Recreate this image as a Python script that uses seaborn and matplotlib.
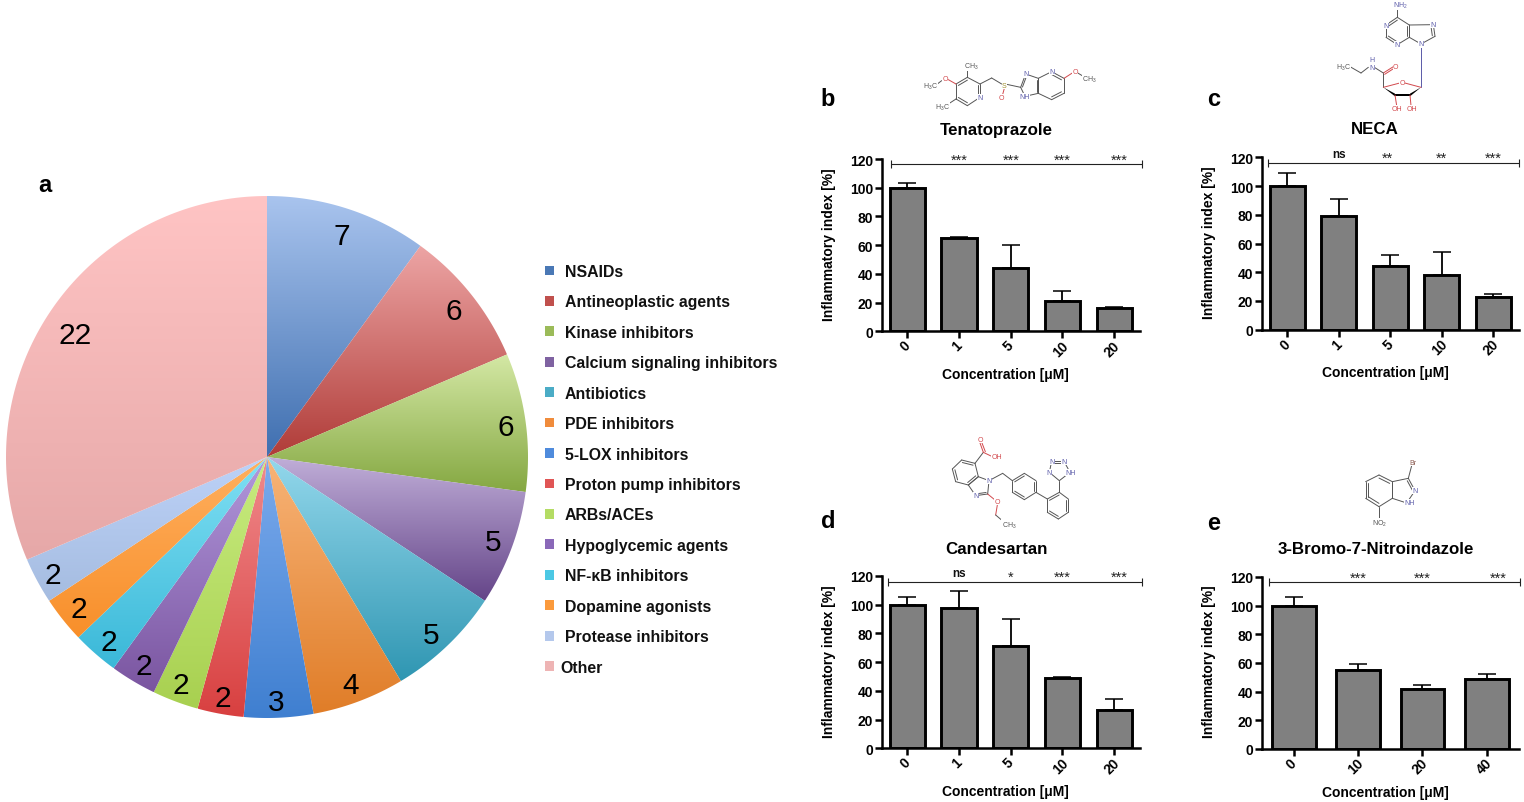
import numpy as np
import pandas as pd
import matplotlib
matplotlib.use("Agg")
import matplotlib.pyplot as plt
from matplotlib.colors import LinearSegmentedColormap
from matplotlib.patches import Patch, Polygon
from matplotlib.transforms import ScaledTranslation
import seaborn as sns

# Data
classes = ["NSAIDs", "Antineoplastic agents", "Kinase inhibitors", "Calcium signaling inhibitors",
           "Antibiotics", "PDE inhibitors", "5-LOX inhibitors", "Proton pump inhibitors", "ARBs/ACEs",
           "Hypoglycemic agents", "NF-κB inhibitors", "Dopamine agonists", "Protease inhibitors", "Other"]
counts = [7, 6, 6, 5, 5, 4, 3, 2, 2, 2, 2, 2, 2, 22]
light = ["#a9c4ee", "#eda5a5", "#d4e8a5", "#c0aed8", "#94d8ec", "#f8b478", "#7cabed",
         "#f08a8c", "#c8ec80", "#b298dc", "#80e0f4", "#ffb060", "#bdd2f8", "#ffc4c4"]
dark = ["#3f6fb0", "#b03c38", "#85a842", "#644488", "#2f96b2", "#e07d28", "#3f7fd0",
        "#d84040", "#a8d050", "#7a55a0", "#3ab8d8", "#f88f2a", "#a5bce0", "#e6a8a8"]
legend_colors = ["#4a78b5", "#c0504d", "#9bbb59", "#7f62a1", "#4bacc6", "#f08c3c", "#4f8bdc",
                 "#e05555", "#b4dc64", "#8a68b8", "#4cc8e4", "#fb9a3c", "#b4c8ec", "#eeb4b4"]
# pixel nudges for the pie numbers, which sit unevenly in the original
label_dx = [2, 3, 6, 6, 2, 1, -1, -2, -4, -3, -4, -5, -7, 4]
label_dy = [2, 0, 2, 2, 8, 8, 10, 10, 8, 7, 8, 6, 7, 7]

tena_conc = ["0", "1", "5", "10", "20"]
tena_vals = [100, 65, 44, 21, 16]
tena_err = [3, 1, 16, 7, 1]
tena_sig = ["***", "***", "***", "***"]
tena_sig_x = [1, 2, 3, 4.1]

neca_conc = ["0", "1", "5", "10", "20"]
neca_vals = [100, 79, 44, 38, 23]
neca_err = [9, 12, 8, 16, 2]
neca_sig = ["ns", "**", "**", "***"]
neca_sig_x = [1, 1.94, 3, 4]

cand_conc = ["0", "1", "5", "10", "20"]
cand_vals = [100, 98, 71, 49, 27]
cand_err = [5.5, 11.5, 19, 0.8, 7.5]
cand_sig = ["ns", "*", "***", "***"]
cand_sig_x = [1, 2, 3, 4.1]

brom_conc = ["0", "10", "20", "40"]
brom_vals = [100, 55, 42, 49]
brom_err = [6, 4.5, 3, 3]
brom_sig = ["***", "***", "***"]
brom_sig_x = [1, 2, 3.18]

sns.set_theme(style="ticks")
plt.rcParams["font.family"] = ["Liberation Sans", "DejaVu Sans"]
plt.rcParams["mathtext.default"] = "regular"

W, H = 1524, 803
fig = plt.figure(figsize=(W / 100, H / 100), dpi=100, facecolor="white")

# overlay in reference pixels, for panel letters and the structures
over = fig.add_axes([0, 0, 1, 1], facecolor="none", zorder=0)
over.set_xlim(0, W)
over.set_ylim(H, 0)
over.axis("off")
px = over.transData


def rect(x0, x1, ybot, ytop):
    return [x0 / W, 1 - ybot / H, (x1 - x0) / W, (ybot - ytop) / H]


# a: pie, each wedge with its own top-to-bottom gradient
R, cx, cy = 261, 267, 458
ax_pie = fig.add_axes(rect(cx - R, cx + R, cy + R, cy - R), zorder=1)
wedges, texts = ax_pie.pie(counts, labels=[str(c) for c in counts], startangle=90, counterclock=False,
                           radius=1, labeldistance=0.9, textprops={"fontsize": 21.5, "color": "black"})
for t, dx, dy in zip(texts, label_dx, label_dy):
    t.set_ha("center")
    t.set_va("center")
    t.set_zorder(5)
    x, y = t.get_position()
    t.set_position((x + dx / R, y - dy / R))
for w, c0, c1 in zip(wedges, light, dark):
    w.set_facecolor("none")
    w.set_edgecolor("none")
    angs = np.radians(np.linspace(w.theta1, w.theta2, 100))
    ys = np.r_[0, np.sin(angs)]
    xs = np.r_[0, np.cos(angs)]
    cmap = LinearSegmentedColormap.from_list("g", [c0, c1])
    im = ax_pie.imshow(np.linspace(0, 1, 256)[:, None], cmap=cmap, aspect="auto", zorder=1,
                       extent=[xs.min(), xs.max(), ys.min(), ys.max()], origin="upper")
    im.set_clip_path(Polygon(np.c_[xs, ys], transform=ax_pie.transData))
ax_pie.set_xlim(-1, 1)
ax_pie.set_ylim(-1, 1)
ax_pie.set_aspect("equal")
ax_pie.axis("off")

handles = [Patch(facecolor=c, edgecolor="none") for c in legend_colors]
leg = fig.legend(handles, classes, loc="upper left", bbox_to_anchor=(545 / W, 1 - 265 / H), frameon=False,
                 prop={"weight": "bold", "size": 11.4}, handlelength=0.57, handleheight=0.57,
                 handletextpad=0.68, labelspacing=0.975, borderpad=0, borderaxespad=0)
for t in leg.get_texts():
    t.set_color("#111111")
leg.get_texts()[-1].set_position((-4, 0))


def panel(box, title, title_xy, xlab_xy, ylab_xy, conc, vals, err, sig, sig_x, sig_y, bar_span, sig_text_y):
    ax = fig.add_axes(rect(*box), facecolor="none", zorder=2)
    df = pd.DataFrame({"conc": conc, "val": vals})
    sns.barplot(data=df, x="conc", y="val", color="#808080", saturation=1, width=0.68,
                edgecolor="black", linewidth=2.1, errorbar=None, ax=ax)
    # only the upper half of each error bar is shown
    ax.errorbar(range(len(vals)), vals, yerr=[np.zeros(len(err)), err], fmt="none", ecolor="black",
                elinewidth=1.3, capsize=6.5, capthick=1.1, zorder=1)
    ax.set_xlim(-0.5, len(vals) - 0.5)
    ax.set_ylim(0, 120)
    ax.set_yticks([0, 20, 40, 60, 80, 100, 120])
    sns.despine(ax=ax)
    for s in ["left", "bottom"]:
        ax.spines[s].set_linewidth(1.8)
        ax.spines[s].set_color("black")
    ax.tick_params(axis="both", length=5, width=1.8, color="black", labelcolor="black", pad=1)
    ax.tick_params(axis="x", pad=0.5)
    for lab in ax.get_yticklabels():
        lab.set_fontsize(10)
        lab.set_fontweight("bold")
    shift = ScaledTranslation(-2 / 100, 1 / 100, fig.dpi_scale_trans)
    for lab in ax.get_xticklabels():
        lab.set_fontsize(10)
        lab.set_fontweight("bold")
        lab.set_rotation(45)
        lab.set_ha("center")
        lab.set_transform(lab.get_transform() + shift)
    ax.set_xlabel("Concentration [μM]", fontsize=10, fontweight="bold", color="black", va="center")
    ax.set_ylabel("Inflammatory index [%]", fontsize=10, fontweight="bold", color="black", va="center")
    ax.xaxis.set_label_coords(*xlab_xy, transform=px)
    ax.yaxis.set_label_coords(*ylab_xy, transform=px)
    over.text(*title_xy, title, fontsize=12.2, fontweight="bold", ha="center", va="center", color="black")
    # significance bracket
    ax.plot(bar_span, [sig_y, sig_y], color="#222222", lw=0.8, marker="|", ms=6, mew=0.8, clip_on=False)
    for x, s in zip(sig_x, sig):
        if s == "ns":
            ax.text(x, sig_text_y + 1.5, s, fontsize=8.5, fontweight="bold", ha="center", va="center", color="#111111")
        else:
            ax.text(x, sig_text_y - 1, s, fontsize=10.5, ha="center", va="center", color="#222222")
    return ax


panel((881.5, 1140, 332.3, 160), "Tenatoprazole", (996, 131), (1005, 375), (829, 245), tena_conc, tena_vals,
      tena_err, tena_sig, tena_sig_x, 116.5, [-0.32, 4.53], 120.5)
panel((1261.5, 1519, 330.7, 158.3), "NECA", (1375, 130), (1385, 373), (1209, 243), neca_conc, neca_vals,
      neca_err, neca_sig, neca_sig_x, 116, [-0.37, 4.5], 120.5)
panel((881.5, 1140, 749.3, 577), "Candesartan", (996, 550), (1005, 792), (829, 662), cand_conc, cand_vals,
      cand_err, cand_sig, cand_sig_x, 116, [-0.37, 4.53], 120.5)
panel((1261.5, 1519, 750, 578), "3-Bromo-7-Nitroindazole", (1376, 550), (1385, 793), (1209, 662), brom_conc,
      brom_vals, brom_err, brom_sig, brom_sig_x, 116.2, [-0.38, 3.51], 120.5)

for letter, x, y in [("a", 45, 185), ("b", 828, 99), ("c", 1214, 99), ("d", 828, 522), ("e", 1214, 524)]:
    over.text(x, y, letter, fontsize=17, fontweight="bold", ha="center", va="center", color="black")

GREY, BLUE, RED = "#555555", "#5a5aa8", "#d2484c"


def mol(ox, oy, rings, bonds, atoms):
    def to(p):
        return ox + p[0] / 3, oy + p[1] / 3
    for pts, doubles in rings:
        c = np.mean(pts, axis=0)
        n = len(pts)
        for i in range(n):
            a, b = to(pts[i]), to(pts[(i + 1) % n])
            over.plot([a[0], b[0]], [a[1], b[1]], color=GREY, lw=0.7)
            if i in doubles:
                a2 = np.array(pts[i]) + (c - np.array(pts[i])) * 0.2
                b2 = np.array(pts[(i + 1) % n]) + (c - np.array(pts[(i + 1) % n])) * 0.2
                a2, b2 = to(a2), to(b2)
                over.plot([a2[0], b2[0]], [a2[1], b2[1]], color=GREY, lw=0.7)
    for b in bonds:
        col = b[4] if len(b) > 4 else GREY
        a, e = to(b[:2]), to(b[2:4])
        over.plot([a[0], e[0]], [a[1], e[1]], color=col, lw=0.7)
    for x, y, s, col in atoms:
        xx, yy = to((x, y))
        over.text(xx, yy, s, fontsize=5, color=col, ha="center", va="center",
                  bbox=dict(fc="white", ec="none", pad=0.2))


mol(810, 60,
    [([(438, 75), (472, 55), (510, 75), (510, 115), (472, 140), (438, 120)], [0, 2, 4]),
     ([(632, 85), (647, 45), (685, 58), (685, 103), (645, 112)], [0, 2]),
     ([(685, 58), (725, 38), (762, 58), (762, 103), (725, 122), (685, 103)], [1, 3])],
    [(472, 55, 472, 20), (438, 75, 415, 62, RED), (395, 65, 378, 78), (438, 120, 415, 135), (510, 75, 545, 57),
     (545, 57, 575, 75), (590, 76, 632, 85), (583, 88, 577, 110, RED), (762, 58, 790, 40, RED), (800, 40, 825, 55)],
    [(483, 20, "CH$_3$", GREY), (405, 58, "O", RED), (360, 82, "H$_3$C", GREY), (398, 143, "H$_3$C", GREY),
     (510, 115, "N", BLUE), (583, 78, "S", "#a09030"), (573, 117, "O", RED), (647, 45, "N", BLUE),
     (645, 112, "NH", BLUE), (725, 38, "N", BLUE), (795, 37, "O", RED), (838, 60, "CH$_3$", GREY)])

mol(1190, 0,
    [([(622, 55), (588, 78), (588, 115), (622, 137), (658, 115), (658, 78)], [0, 2, 4]),
     ([(658, 78), (730, 77), (735, 112), (693, 135), (658, 115)], [1])],
    [(622, 30, 622, 55), (693, 135, 693, 265, BLUE), (580, 265, 580, 222), (580, 222, 610, 203, RED),
     (584, 226, 612, 208, RED), (580, 222, 553, 205), (535, 205, 513, 222), (513, 222, 480, 203),
     (615, 288, 620, 320, RED), (660, 288, 663, 320, RED), (693, 265, 637, 250, RED), (637, 250, 580, 265, RED)],
    [(630, 17, "NH$_2$", BLUE), (588, 78, "N", BLUE), (622, 137, "N", BLUE), (730, 77, "N", BLUE),
     (693, 135, "N", BLUE), (637, 250, "O", RED), (617, 203, "O", RED), (545, 192, "H\nN", BLUE),
     (460, 203, "H$_3$C", GREY), (622, 328, "OH", RED), (665, 328, "OH", RED)])
# wedge bonds of the sugar ring
for pts in [[(580, 265), (615, 284), (615, 292)], [(615, 284), (660, 284), (660, 292), (615, 292)],
            [(693, 265), (660, 284), (660, 292)]]:
    over.add_patch(Polygon([(1190 + a / 3, b / 3) for a, b in pts], fc="black", ec="none"))

mol(810, 430,
    [([(455, 93), (495, 103), (505, 143), (475, 168), (437, 158), (427, 120)], [0, 2, 4]),
     ([(505, 143), (537, 155), (533, 195), (497, 200), (475, 168)], [2]),
     ([(607, 155), (643, 133), (678, 155), (678, 190), (643, 212), (607, 190)], [0, 2, 4]),
     ([(712, 210), (748, 190), (775, 210), (775, 250), (745, 270), (712, 250)], [0, 2, 4]),
     ([(748, 155), (718, 130), (725, 97), (762, 97), (780, 130)], [2])],
    [(495, 103, 520, 70), (520, 70, 510, 42, RED), (526, 68, 516, 42, RED), (520, 70, 545, 82, RED),
     (537, 155, 578, 133), (578, 133, 607, 155), (678, 190, 712, 210), (748, 190, 748, 155),
     (533, 195, 555, 213, RED), (562, 228, 557, 258, RED), (557, 258, 583, 280)],
    [(510, 32, "O", RED), (560, 82, "OH", RED), (537, 155, "N", BLUE), (497, 200, "N", BLUE), (562, 218, "O", RED),
     (597, 287, "CH$_3$", GREY), (718, 130, "N", BLUE), (725, 97, "N", BLUE), (762, 97, "N", BLUE),
     (782, 130, "NH", BLUE)])

mol(1190, 430,
    [([(567, 138), (607, 158), (607, 208), (567, 233), (527, 208), (527, 158)], [0, 3, 4]),
     ([(607, 158), (655, 148), (675, 185), (650, 222), (607, 208)], [1])],
    [(655, 148, 665, 110), (567, 233, 567, 270)],
    [(670, 100, "Br", "#8a5a50"), (675, 185, "N", BLUE), (658, 222, "NH", BLUE), (567, 283, "NO$_2$", GREY)])

fig.savefig("out.png", dpi=100)
